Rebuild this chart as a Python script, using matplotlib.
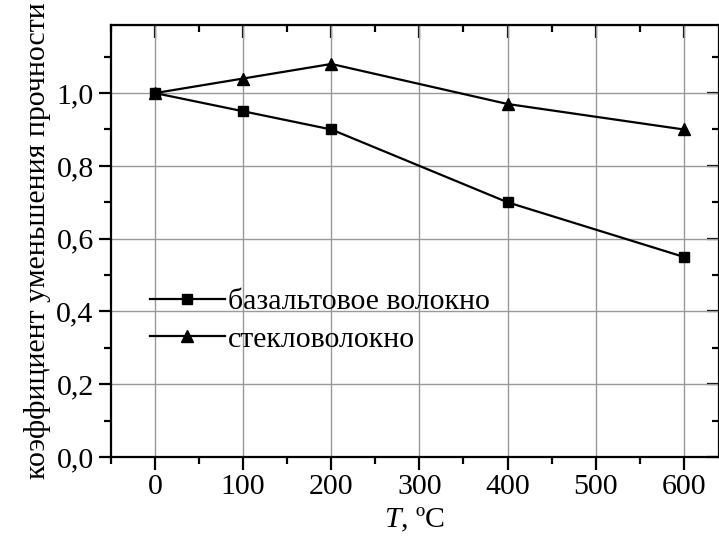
import matplotlib.pyplot as plt
from matplotlib.ticker import MultipleLocator, FuncFormatter

plt.rcParams['font.family'] = ['Liberation Serif', 'DejaVu Serif']
plt.rcParams['mathtext.fontset'] = 'custom'
plt.rcParams['mathtext.it'] = 'Liberation Serif:italic'
plt.rcParams['mathtext.rm'] = 'Liberation Serif'

# данные
T = [0, 100, 200, 400, 600]
basalt = [1.0, 0.95, 0.90, 0.70, 0.55]
glass = [1.0, 1.04, 1.08, 0.97, 0.90]
lab_basalt = "базальтовое волокно"
lab_glass = "стекловолокно"

fs = 21.5

fig = plt.figure(figsize=(7.19, 5.39), dpi=100)
ax = fig.add_axes([0.1544, 0.152, 0.8456, 0.8016])

ax.plot(T, basalt, color='k', lw=1.6, marker='s', ms=7.5, label=lab_basalt)
ax.plot(T, glass, color='k', lw=1.6, marker='^', ms=9, label=lab_glass)

ax.set_xlim(-50, 640)
ax.set_ylim(0, 1.187)
ax.xaxis.set_major_locator(MultipleLocator(100))
ax.xaxis.set_minor_locator(MultipleLocator(50))
ax.yaxis.set_major_locator(MultipleLocator(0.2))
ax.yaxis.set_minor_locator(MultipleLocator(0.1))
ax.yaxis.set_major_formatter(FuncFormatter(lambda v, p: f"{v:.1f}".replace('.', ',')))
ax.grid(True, which='major', color='#999999', lw=1)

for s in ax.spines.values():
    s.set_linewidth(1.6)
ax.tick_params(which='major', length=9, width=1.6, labelsize=fs, direction='out')
ax.tick_params(which='minor', length=5, width=1.6, direction='out')

# засечки внутрь сверху и справа
top = ax.secondary_xaxis('top')
top.xaxis.set_major_locator(MultipleLocator(100))
top.xaxis.set_minor_locator(MultipleLocator(50))
top.tick_params(which='major', length=9, width=1.6, direction='in', labeltop=False)
top.tick_params(which='minor', length=5, width=1.6, direction='in')
right = ax.secondary_yaxis('right')
right.yaxis.set_major_locator(MultipleLocator(0.2))
right.yaxis.set_minor_locator(MultipleLocator(0.1))
right.tick_params(which='major', length=9, width=1.6, direction='in', labelright=False)
right.tick_params(which='minor', length=5, width=1.6, direction='in')

ax.set_xlabel(r'$T$, ºC', fontsize=fs, labelpad=4)
ax.set_ylabel("коэффициент уменьшения прочности", fontsize=fs, labelpad=4)

ax.legend(loc='upper left', bbox_to_anchor=(0.064, 0.39), frameon=False,
          fontsize=fs, handlelength=2.5, handletextpad=0.1, labelspacing=0.35,
          borderpad=0, borderaxespad=0)

fig.savefig("out.png", dpi=100)
